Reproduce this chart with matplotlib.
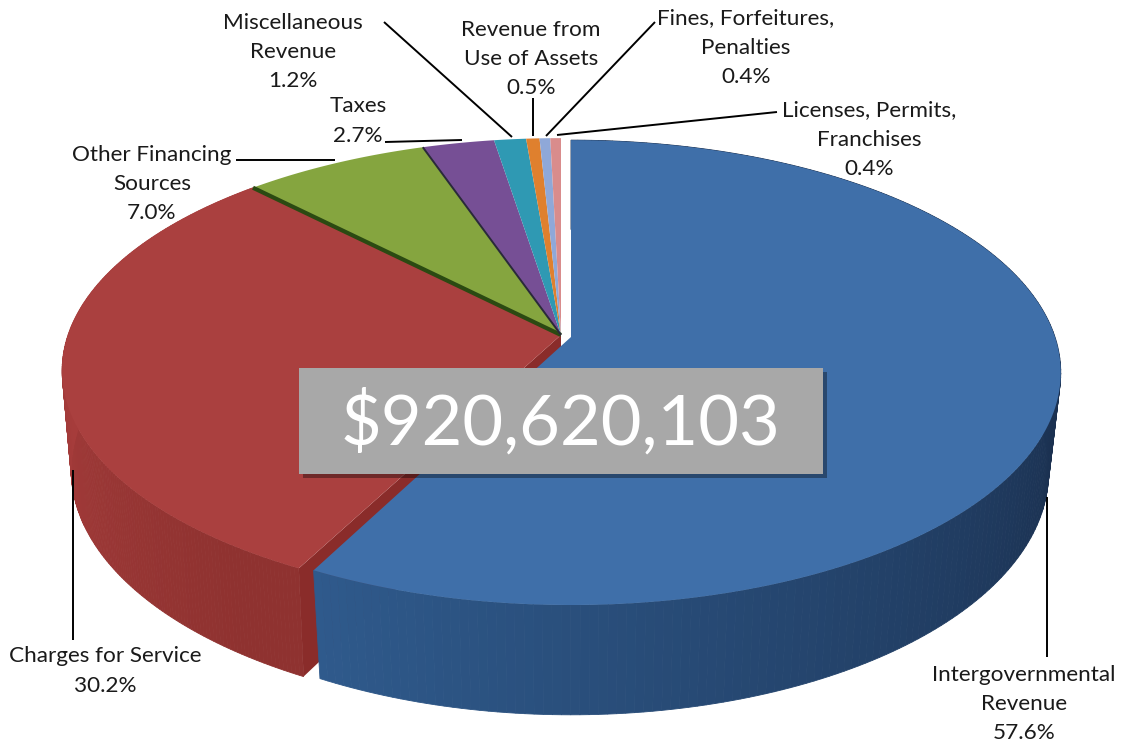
import numpy as np
import matplotlib
matplotlib.use("Agg")
import matplotlib.pyplot as plt
from matplotlib.colors import to_rgb
from matplotlib.patches import Polygon, Rectangle

# ---- data
categories = ["Intergovernmental\nRevenue", "Charges for Service", "Other Financing\nSources", "Taxes",
              "Miscellaneous\nRevenue", "Revenue from\nUse of Assets", "Fines, Forfeitures,\nPenalties",
              "Licenses, Permits,\nFranchises"]
shares = [57.6, 30.2, 7.0, 2.7, 1.2, 0.5, 0.4, 0.4]
total_label = "$920,620,103"

# ---- styles and layout
top_colors = ["#3f6fa9", "#aa403f", "#85a53f", "#764f95", "#2f99b3", "#df802e", "#8fa8d8", "#d98c8c"]
label_xy = [(1024, 704), (105, 671), (152, 184), (358, 121), (293, 52), (531, 59), (746, 48), (869, 140)]
leaders = [[(1047, 497), (1047, 657)], [(72.5, 470), (72.5, 640)], [(236, 160), (335, 160)],
           [(385, 142), (462, 140)], [(384, 22), (512, 137)], [(533, 98), (533, 136)],
           [(655, 22), (546, 136)], [(777, 112), (557, 135)]]
K = 0.153
FONT = "Lato"

fig = plt.figure(figsize=(11.23, 7.47), dpi=100, facecolor="white")
ax = fig.add_axes([0, 0, 1, 1])
ax.set_xlim(0, 1123)
ax.set_ylim(747, 0)
ax.axis("off")


def proj(theta, cx, cy, w, a):
    u, v = np.sin(theta), np.cos(theta)
    d = 1 + K * v
    return cx + w * u / d, cy - a * v / d


def top(theta, blue=False):
    return proj(theta, 571, 337, 484, 227) if blue else proj(theta, 561, 335, 493, 227)


def bottom(theta, blue=False):
    return proj(theta, 571, 435, 472, 237) if blue else proj(theta, 561, 433, 484, 237)


edges = np.radians(np.concatenate([[0], np.cumsum(shares)]) * 3.6)


def sector(i, blue=False):
    t = np.linspace(edges[i], edges[i + 1], 200)
    x, y = top(t, blue)
    cx = 571 if blue else 561
    cy = 337 if blue else 335
    return np.column_stack([np.r_[cx, x], np.r_[cy, y]])


def wall(i, c0, c1, a0, a1, blue=False, n=220, zo=2):
    """Outer rim; colour runs from c0 at angle a0 to c1 at angle a1 (degrees)."""
    t = np.linspace(edges[i], edges[i + 1], n + 1)
    xt, yt = top(t, blue)
    xb, yb = bottom(t, blue)
    c0, c1 = np.array(to_rgb(c0)), np.array(to_rgb(c1))
    for j in range(n):
        f = np.clip((np.degrees(t[j]) - a0) / (a1 - a0), 0, 1)
        col = c0 + (c1 - c0) * f
        ax.add_patch(Polygon([(xt[j], yt[j]), (xt[j + 1], yt[j + 1]), (xb[j + 1], yb[j + 1]), (xb[j], yb[j])],
                             closed=True, fc=col, ec=col, lw=0.6, zorder=zo))


# small slices, back to front
for i in range(2, len(shares)):
    ax.add_patch(Polygon(sector(i), closed=True, fc=top_colors[i], ec="none", zorder=1))

# red slice: outer wall, radial wall, top
wall(1, "#8f3230", "#a63c3b", 215, 268, zo=2)
xc, yc = top(edges[1])
xd, yd = bottom(edges[1])
ax.add_patch(Polygon([(561, 335), (xc, yc), (xd, yd), (561, 433)], closed=True, fc="#8a2c2a", ec="none", zorder=2.5))
ax.add_patch(Polygon(sector(1), closed=True, fc=top_colors[1], ec="none", zorder=3))

# dark separators
xg, yg = top(edges[2])
ax.plot([561, xg], [335, yg], color="#2b4a12", lw=3, zorder=3.5, solid_capstyle="butt")
xp, yp = top(edges[3])
ax.plot([561, xp], [335, yp], color="#2a2a3a", lw=1.4, zorder=3.5, solid_capstyle="butt")

# blue slice
wall(0, "#1a2f4e", "#2f5a8c", 100, 207, blue=True, zo=4)
ax.add_patch(Polygon(sector(0, blue=True), closed=True, fc=top_colors[0], ec="none", zorder=5))

# leaders
for seg in leaders:
    (x0, y0), (x1, y1) = seg
    ax.plot([x0, x1], [y0, y1], color="black", lw=1.4, zorder=6, solid_capstyle="butt")

# labels
for name, val, (x, y) in zip(categories, shares, label_xy):
    ax.text(x, y, f"{name}\n{val:.1f}%", ha="center", va="center", family=FONT, fontsize=16.2,
            color="#1a1a1a", linespacing=1.59, zorder=7)

# total box
ax.add_patch(Rectangle((303, 372), 524, 106, fc="black", alpha=0.35, ec="none", zorder=8))
ax.add_patch(Rectangle((299, 368), 524, 106, fc="#a8a8a8", ec="none", zorder=9))
ax.text(561, 423, total_label, ha="center", va="center", family=FONT, fontsize=50.7, color="white", zorder=10)

fig.savefig("out.png", dpi=100, facecolor="white")
